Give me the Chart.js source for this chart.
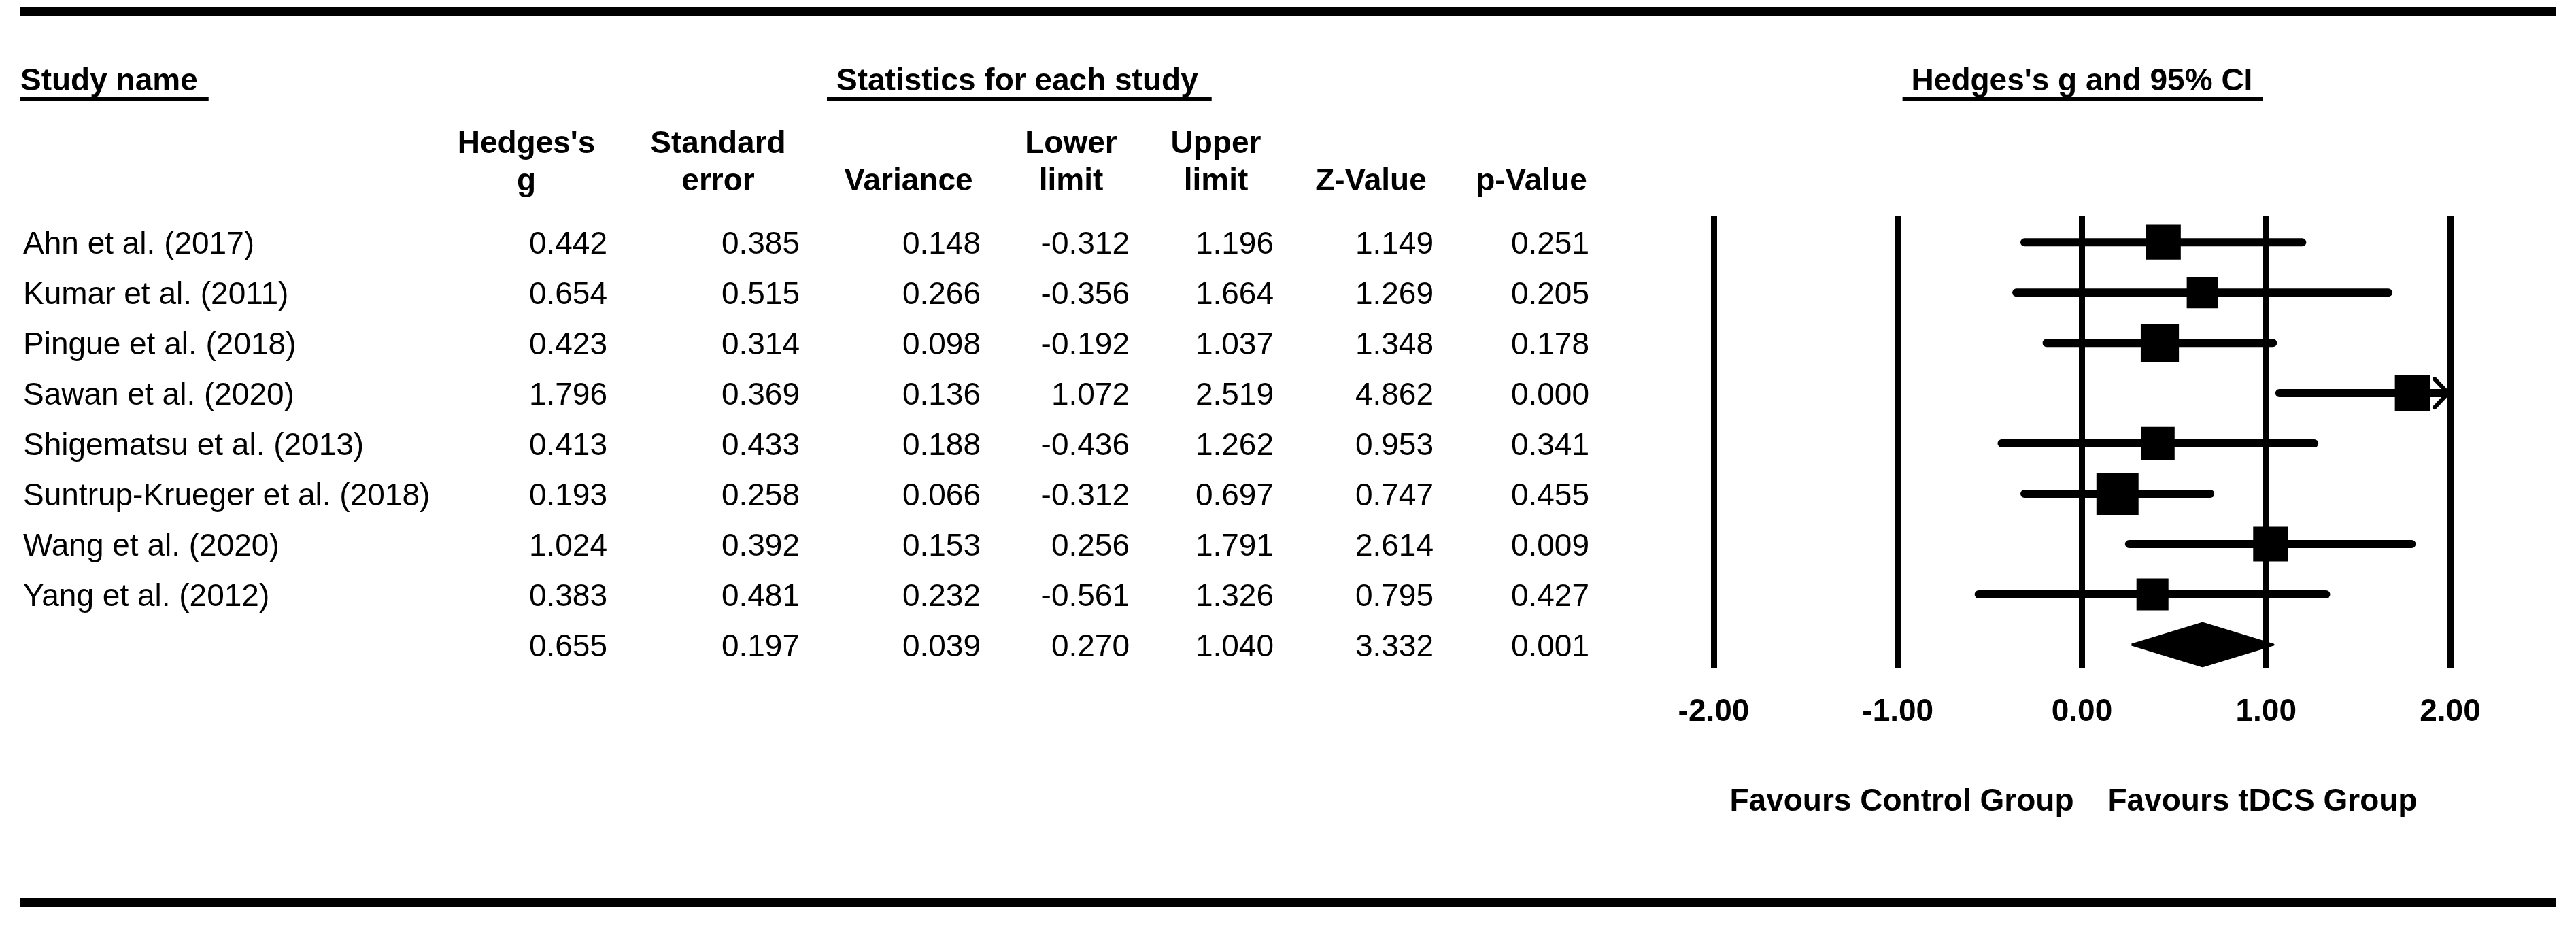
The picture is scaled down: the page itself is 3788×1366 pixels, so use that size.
<!DOCTYPE html>
<html>
<head>
<meta charset="utf-8">
<title>Hedges's g and 95% CI</title>
<script src="https://cdn.jsdelivr.net/npm/chart.js@4.4.1/dist/chart.umd.min.js"></script>
<style>
  html, body { margin: 0; padding: 0; background: #fff; }
  canvas { display: block; }
</style>
</head>
<body>
<canvas id="forest" width="3788" height="1366" style="width:3788px;height:1366px"></canvas>
<script>
// one entry per study, top to bottom
const studies = [
    "Ahn et al. (2017)",
    "Kumar et al. (2011)",
    "Pingue et al. (2018)",
    "Sawan et al. (2020)",
    "Shigematsu et al. (2013)",
    "Suntrup-Krueger et al. (2018)",
    "Wang et al. (2020)",
    "Yang et al. (2012)"
];
const hedgesG   = [0.442, 0.654, 0.423, 1.796, 0.413, 0.193, 1.024, 0.383];
const stdError  = [0.385, 0.515, 0.314, 0.369, 0.433, 0.258, 0.392, 0.481];
const variance  = [0.148, 0.266, 0.098, 0.136, 0.188, 0.066, 0.153, 0.232];
const lowerLim  = [-0.312, -0.356, -0.192, 1.072, -0.436, -0.312, 0.256, -0.561];
const upperLim  = [1.196, 1.664, 1.037, 2.519, 1.262, 0.697, 1.791, 1.326];
const zValue    = [1.149, 1.269, 1.348, 4.862, 0.953, 0.747, 2.614, 0.795];
const pValue    = [0.251, 0.205, 0.178, 0.000, 0.341, 0.455, 0.009, 0.427];

// pooled (summary) row: g, se, variance, lower, upper, z, p
const pooled = [0.655, 0.197, 0.039, 0.270, 1.040, 3.332, 0.001];

// x axis of the plot
const xTicks = [-2, -1, 0, 1, 2];
const X_MIN = -2, X_MAX = 2;

const FONT = "'Liberation Sans', Arial, Helvetica, sans-serif";
const SUMMARY_ROW = studies.length;   // summary sits under the last study
const DIAMOND_H = 0.43;               // half height of the diamond, in rows

Chart.defaults.font.family = FONT;
Chart.defaults.font.size = 46;
Chart.defaults.color = "#000";

// table columns: header lines, where the header is centred and where numbers end
const columns = [
    { head: ["Hedges's", "g"],      center: 774,  right: 893,  values: hedgesG,  pooled: pooled[0] },
    { head: ["Standard", "error"],  center: 1056, right: 1176, values: stdError, pooled: pooled[1] },
    { head: ["", "Variance"],       center: 1336, right: 1442, values: variance, pooled: pooled[2] },
    { head: ["Lower", "limit"],     center: 1575, right: 1661, values: lowerLim, pooled: pooled[3] },
    { head: ["Upper", "limit"],     center: 1788, right: 1873, values: upperLim, pooled: pooled[4] },
    { head: ["", "Z-Value"],        center: 2016, right: 2108, values: zValue,   pooled: pooled[5] },
    { head: ["", "p-Value"],        center: 2252, right: 2337, values: pValue,   pooled: pooled[6] }
];

// draw an underlined heading, returns nothing
function heading(ctx, text, x, align, padL, padR) {
    ctx.textAlign = align;
    ctx.fillText(text, x, 133);
    const w = ctx.measureText(text).width;
    let left = x;
    if (align === "center") left = x - w / 2;
    ctx.fillRect(left - padL, 143, w + padL + padR, 5);
}

// everything around the plot: rules, headings, the table and the side labels
const tablePlugin = {
    id: "forestTable",
    afterDatasetsDraw(chart) {
        const ctx = chart.ctx;
        const xs = chart.scales.x, ys = chart.scales.y;
        ctx.save();
        ctx.strokeStyle = "#000";
        ctx.lineWidth = 6;
        ctx.lineCap = "round";
        // arrow where a CI runs past the right end of the axis
        upperLim.forEach((u, i) => {
            if (u <= X_MAX) return;
            const tip = xs.getPixelForValue(X_MAX) - 3;
            const py = ys.getPixelForValue(i);
            ctx.beginPath();
            ctx.moveTo(tip - 20, py - 21);
            ctx.lineTo(tip, py);
            ctx.lineTo(tip - 20, py + 21);
            ctx.stroke();
        });
        ctx.restore();
    },
    afterDraw(chart) {
        const ctx = chart.ctx;
        const xs = chart.scales.x, ys = chart.scales.y;
        ctx.save();
        ctx.fillStyle = "#000";

        // thick rules top and bottom
        ctx.fillRect(30, 11, 3728, 13);
        ctx.fillRect(29, 1321, 3729, 13);

        // section headings
        ctx.font = "bold 46px " + FONT;
        ctx.textBaseline = "alphabetic";
        heading(ctx, "Study name", 30, "left", 0, 16);
        heading(ctx, "Statistics for each study", 1230, "left", 14, 20);
        heading(ctx, "Hedges's g and 95% CI", (chart.chartArea.left + chart.chartArea.right) / 2, "center", 13, 15);

        // column headers
        ctx.textAlign = "center";
        columns.forEach(c => {
            if (c.head[0]) ctx.fillText(c.head[0], c.center, 225);
            ctx.fillText(c.head[1], c.center, 280);
        });

        // rows
        ctx.font = "46px " + FONT;
        studies.forEach((name, i) => {
            const base = ys.getPixelForValue(i) + 17;
            ctx.textAlign = "left";
            ctx.fillText(name, 34, base);
            ctx.textAlign = "right";
            columns.forEach(c => ctx.fillText(c.values[i].toFixed(3), c.right, base));
        });
        const sBase = ys.getPixelForValue(SUMMARY_ROW) + 17;
        ctx.textAlign = "right";
        columns.forEach(c => ctx.fillText(c.pooled.toFixed(3), c.right, sBase));

        // favours labels under the axis
        const x0 = xs.getPixelForValue(0);
        ctx.font = "bold 46px " + FONT;
        ctx.textAlign = "right";
        ctx.fillText("Favours Control Group", x0 - 12, 1192);
        ctx.textAlign = "left";
        ctx.fillText("Favours tDCS Group", x0 + 38, 1192);

        ctx.restore();
    }
};

// squares for the study estimates, size grows with the study weight (1/variance)
const markers = {
    label: "Hedges's g",
    data: studies.map((s, i) => ({ x: hedgesG[i], y: i })),
    pointStyle: "rect",
    pointRadius: variance.map(v => (30 + 8.2 * Math.sqrt(1 / v)) / Math.SQRT2),
    backgroundColor: "#000",
    borderWidth: 0,
    order: 0
};

// one horizontal line per confidence interval, cut at the axis ends
const ciLines = studies.map((s, i) => ({
    label: s,
    data: [
        { x: Math.max(lowerLim[i], X_MIN), y: i },
        { x: Math.min(upperLim[i], X_MAX), y: i }
    ],
    showLine: true,
    borderColor: "#000",
    borderWidth: 12,
    borderCapStyle: "round",
    pointRadius: 0,
    order: 1
}));

// pooled estimate as a filled diamond
const diamond = {
    label: "Pooled",
    data: [
        { x: pooled[3], y: SUMMARY_ROW },
        { x: pooled[0], y: SUMMARY_ROW - DIAMOND_H },
        { x: pooled[4], y: SUMMARY_ROW },
        { x: pooled[0], y: SUMMARY_ROW + DIAMOND_H },
        { x: pooled[3], y: SUMMARY_ROW }
    ],
    showLine: true,
    fill: "shape",
    backgroundColor: "#000",
    borderColor: "#000",
    borderWidth: 3,
    borderJoinStyle: "round",
    pointRadius: 0,
    order: 2
};

const config = {
    type: "scatter",
    data: { datasets: [markers, ...ciLines, diamond] },
    options: {
        responsive: false,
        devicePixelRatio: 1,
        animation: false,
        events: [],
        layout: { padding: { left: 2520, right: 185, top: 317, bottom: 264 } },
        plugins: {
            legend: { display: false },
            tooltip: { enabled: false }
        },
        scales: {
            x: {
                type: "linear",
                min: X_MIN,
                max: X_MAX,
                afterBuildTicks: s => { s.ticks = xTicks.map(v => ({ value: v })); },
                afterFit: s => { s.height = 120; },
                grid: { color: "#000", lineWidth: 9, drawTicks: false },
                border: { display: false },
                ticks: {
                    padding: 38,
                    autoSkip: false,
                    maxRotation: 0,
                    color: "#000",
                    font: { size: 46, weight: "bold" },
                    callback: v => v.toFixed(2)
                }
            },
            y: {
                type: "linear",
                display: false,
                reverse: true,
                min: -0.53,
                max: SUMMARY_ROW + 0.46
            }
        }
    },
    plugins: [tablePlugin]
};

const ctx = document.getElementById("forest").getContext("2d");
const forestChart = new Chart(ctx, config);
</script>
</body>
</html>
